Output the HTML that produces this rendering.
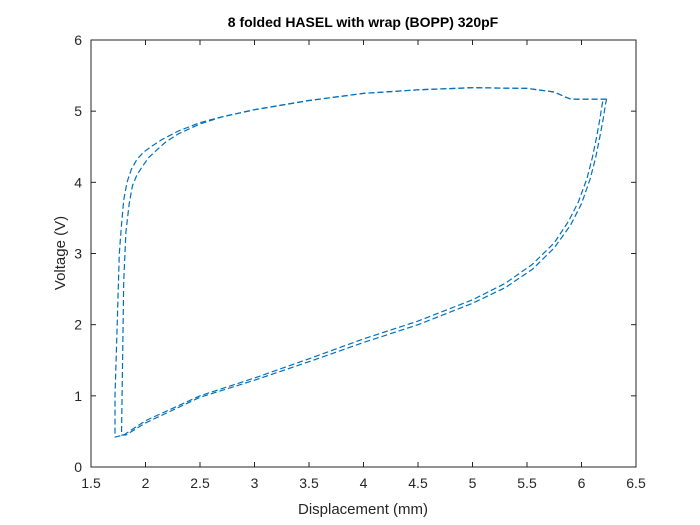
<!DOCTYPE html>
<html><head><meta charset="utf-8"><style>
body{margin:0;background:#fff;}
svg{display:block;font-family:"Liberation Sans",Arial,sans-serif;}
</style></head><body>
<svg id="chart" width="700" height="525">
<rect width="700" height="525" fill="#fff"/>
<text x="363" y="27" text-anchor="middle" font-size="14" font-weight="bold" fill="#000">8 folded HASEL with wrap (BOPP) 320pF</text>
<g id="plot"></g>
<text x="363" y="514" text-anchor="middle" font-size="15" fill="#262626">Displacement (mm)</text>
<text transform="translate(65,253) rotate(-90)" text-anchor="middle" font-size="15" fill="#262626">Voltage (V)</text>
</svg>
<script>
const xTicks=[1.5,2,2.5,3,3.5,4,4.5,5,5.5,6,6.5];
const yTicks=[0,1,2,3,4,5,6];
const loop1X=[6.23,6.05,5.9,5.85,5.75,5.5,5.0,4.5,4.0,3.5,3.0,2.7,2.5,2.3,2.15,2.05,1.98,1.92,1.87,1.83,1.8,1.78,1.76,1.74,1.72,1.72,1.8,2.0,2.5,3.0,3.5,4.0,4.5,5.0,5.3,5.55,5.75,5.88,5.97,6.05,6.1,6.14,6.17,6.19,6.2];
const loop1Y=[5.17,5.17,5.17,5.2,5.27,5.32,5.33,5.30,5.25,5.15,5.02,4.92,4.84,4.72,4.6,4.5,4.42,4.32,4.18,4.0,3.75,3.4,3.0,2.0,1.0,0.42,0.45,0.65,1.0,1.25,1.52,1.80,2.05,2.35,2.58,2.85,3.15,3.45,3.72,4.05,4.35,4.65,4.9,5.1,5.17];
const loop2X=[6.23,6.05,5.9,5.85,5.75,5.5,5.0,4.5,4.0,3.5,3.0,2.7,2.5,2.3,2.18,2.1,2.03,1.97,1.92,1.88,1.85,1.82,1.80,1.79,1.78,1.82,2.0,2.5,3.0,3.5,4.0,4.5,5.0,5.3,5.55,5.75,5.9,6.0,6.08,6.13,6.17,6.2,6.22,6.23];
const loop2Y=[5.17,5.17,5.17,5.2,5.27,5.32,5.33,5.30,5.25,5.15,5.02,4.92,4.82,4.68,4.56,4.45,4.35,4.22,4.1,3.95,3.7,3.3,2.6,1.5,0.45,0.45,0.62,0.98,1.22,1.48,1.75,2.0,2.30,2.52,2.78,3.08,3.40,3.70,4.05,4.35,4.65,4.9,5.1,5.17];
const X0=91,X1=636,Y0=467,Y1=40;
const sx=v=>X0+(v-1.5)/5*(X1-X0);
const sy=v=>Y0-v/6*(Y0-Y1);
const NS="http://www.w3.org/2000/svg";
const g=document.getElementById('plot');
function mk(t,a){const e=document.createElementNS(NS,t);for(const k in a)e.setAttribute(k,a[k]);g.appendChild(e);return e;}
const box=mk('rect',{x:X0,y:Y1,width:X1-X0,height:Y0-Y1,fill:'#fff',stroke:'#262626','stroke-width':1});


xTicks.forEach(t=>{const x=sx(t);
 mk('line',{x1:x,x2:x,y1:Y0,y2:Y0-5,stroke:'#262626'});mk('line',{x1:x,x2:x,y1:Y1,y2:Y1+5,stroke:'#262626'});
 const l=mk('text',{x:x,y:Y0+21,'text-anchor':'middle','font-size':14,fill:'#262626'});l.textContent=t;
 
 });
yTicks.forEach(t=>{const y=sy(t);
 mk('line',{x1:X0,x2:X0+5,y1:y,y2:y,stroke:'#262626'});mk('line',{x1:X1,x2:X1-5,y1:y,y2:y,stroke:'#262626'});
 const l=mk('text',{x:X0-9,y:y+5,'text-anchor':'end','font-size':14,fill:'#262626'});l.textContent=t;
 
 });
[[loop1X,loop1Y,'loop-1'],[loop2X,loop2Y,'loop-2']].forEach(([xs,ys,n])=>{
 const d=xs.map((v,i)=>(i?'L':'M')+sx(v).toFixed(1)+','+sy(ys[i]).toFixed(1)).join('');
 const p=mk('path',{d:d,fill:'none',stroke:'#0072BD','stroke-width':1.2,'stroke-dasharray':'6,3','stroke-linejoin':'round'});
 
 });
</script>
</body></html>
